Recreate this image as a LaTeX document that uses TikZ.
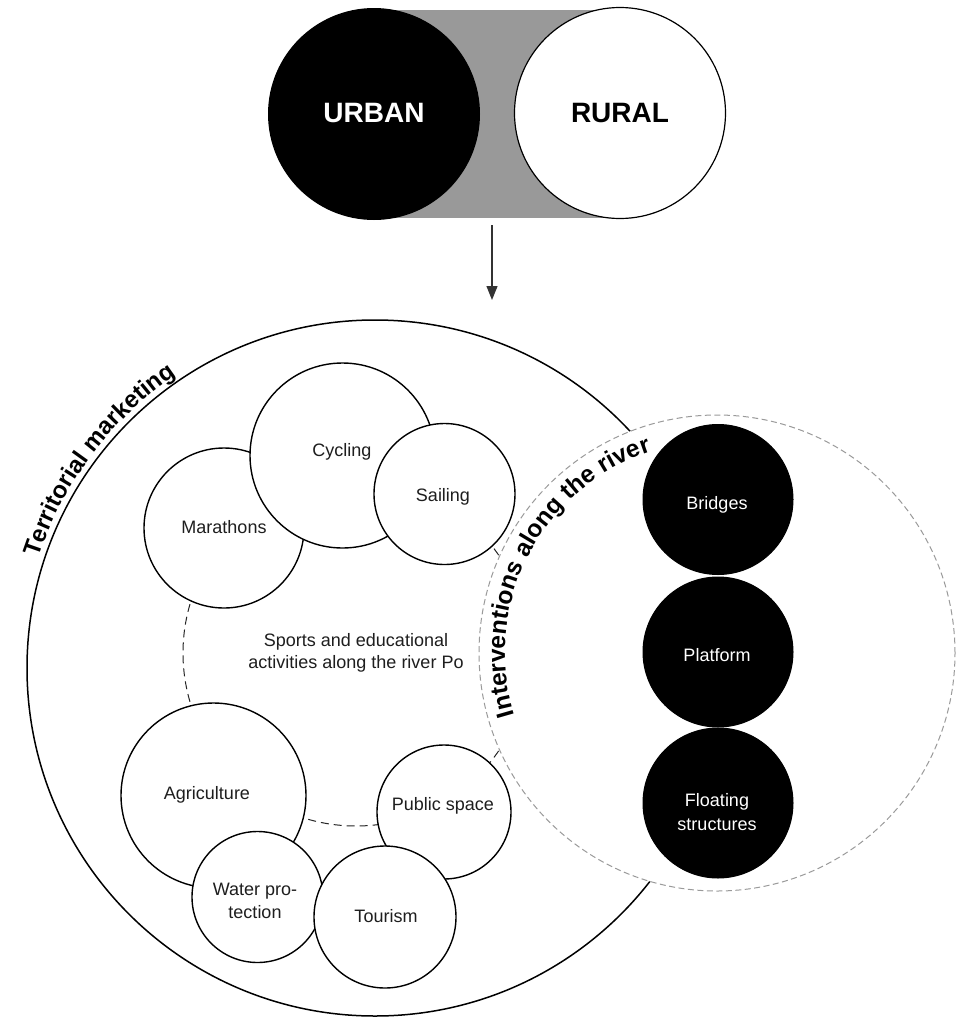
\documentclass[tikz,border=0pt]{standalone}
\usepackage{fontspec}
\setmainfont{Liberation Sans}
\usetikzlibrary{arrows.meta,decorations.text}

\definecolor{barGray}{HTML}{999999}
\definecolor{ringGray}{HTML}{9A9A9A}
\definecolor{inkDark}{HTML}{1E1E1E}

\tikzset{
  bubble/.style={circle, draw=black, line width=1.4pt, fill=white, inner sep=0pt, minimum size=#1},
  darkbubble/.style={circle, draw=black, line width=1pt, fill=black, inner sep=0pt, minimum size=#1},
  label text/.style={align=center, font=\fontsize{18}{22.5}\selectfont, text=inkDark, inner sep=0pt},
  dark label/.style={align=center, font=\fontsize{18}{24}\selectfont, text=white, inner sep=0pt},
  big word/.style={font=\fontsize{28}{30}\selectfont\bfseries, inner sep=0pt},
  ring dashed/.style={draw=ringGray, line width=1pt, dash pattern=on 6pt off 3.5pt, fill=white},
  inner dashed/.style={draw=black!85, line width=1pt, dash pattern=on 8pt off 5pt}
}

\begin{document}
\begin{tikzpicture}[x=1pt,y=1pt]
\useasboundingbox (0,0) rectangle (956,-1018);

% urban / rural pair on a grey band
\fill[barGray] (374,-10) rectangle (620,-218);
\node[circle, fill=black, inner sep=0pt, minimum size=212pt] (urban) at (374,-114) {};
\node[circle, draw=black, line width=1.2pt, fill=white, inner sep=0pt, minimum size=211pt] (rural) at (620,-113) {};
\node[big word, text=white] (urbantext) at (374,-113) {URBAN};
\node[big word, text=black] (ruraltext) at (620,-113) {RURAL};

% arrow down to the territory
\coordinate (arrowstart) at (492,-225);
\coordinate (arrowend) at (492,-300);
\draw[line width=1.2pt, draw=black!80, -{Triangle[length=14pt,width=11pt]}] (arrowstart) -- (arrowend);

% territorial marketing circle
\node[circle, draw=black, line width=1.5pt, fill=white, inner sep=0pt, minimum size=696pt] (territory) at (375,-668) {};
\path[decorate, decoration={text along path, text align=center,
  text={|\fontsize{24}{24}\bfseries\selectfont|Territorial marketing}}]
  (territory.center) ++(200:354) arc[start angle=200, end angle=86, radius=354];

% ring of activities
\coordinate (ringcenter) at (356,-653);
\draw[inner dashed] (ringcenter) circle[radius=173];

\node[bubble=160pt] (marathons) at (224,-528) {};
\node[bubble=185pt] (cycling) at (342.5,-455.5) {};
\node[bubble=141pt] (sailing) at (444.5,-494) {};
\node[bubble=185pt] (agriculture) at (213.5,-795.5) {};
\node[bubble=131pt] (water) at (257.5,-897) {};
\node[bubble=134pt] (public) at (444,-812) {};
\node[bubble=142pt] (tourism) at (385,-917) {};

\node[label text] (marathonstext) at (224,-527) {Marathons};
\node[label text] (cyclingtext) at (342,-452) {Cycling};
\node[label text] (sailingtext) at (443,-497) {Sailing};
\node[label text] (agriculturetext) at (207,-795) {Agriculture};
\node[label text] (watertext) at (255,-901) {Water pro-\\tection};
\node[label text] (publictext) at (443,-806) {Public space};
\node[label text] (tourismtext) at (386,-916) {Tourism};
\node[label text] (centertext) at (356,-653) {Sports and educational\\activities along the river Po};

% interventions along the river
\node[circle, ring dashed, inner sep=0pt, minimum size=476pt] (river) at (717,-653) {};
\path[decorate, decoration={text along path, text align=center,
  text={|\fontsize{24.5}{24}\bfseries\selectfont|Interventions along the river}}]
  (river.center) ++(240:212) arc[start angle=240, end angle=65, radius=212];

\node[darkbubble=150pt] (bridges) at (718,-499.5) {};
\node[darkbubble=150pt] (platform) at (718,-652) {};
\node[darkbubble=150pt] (floating) at (718,-803) {};
\node[dark label] (bridgestext) at (717,-505) {Bridges};
\node[dark label] (platformtext) at (717,-655) {Platform};
\node[dark label] (floatingtext) at (717,-812) {Floating\\structures};

\end{tikzpicture}
\end{document}
